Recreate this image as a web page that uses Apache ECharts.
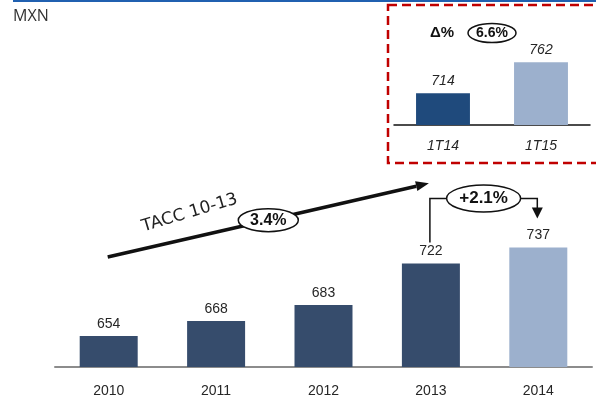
<!DOCTYPE html>
<html>
<head>
<meta charset="utf-8">
<script src="https://cdn.jsdelivr.net/npm/echarts@6/dist/echarts.min.js"></script>
<style>
  html, body { margin: 0; padding: 0; background: #fff; }
  #main { width: 596px; height: 403px; }
</style>
</head>
<body>
<div id="main"></div>
<script>
  // datos
  const years = ['2010', '2011', '2012', '2013', '2014']
  const yearValues = [654, 668, 683, 722, 737]
  const quarters = ['1T14', '1T15']
  const quarterValues = [714, 762]
  const unitLabel = 'MXN'
  const taccLabel = 'TACC 10-13'
  const taccValue = '3.4%'
  const yoyValue = '+2.1%'
  const deltaLabel = 'Δ%'
  const quarterDelta = '6.6%'

  const dark = '#364c6c'
  const light = '#9cb0cd'
  const font = 'Liberation Sans'

  const chart = echarts.init(document.getElementById('main'))
  chart.setOption({
    animation: false,
    grid: [
      { left: 55, top: 100, width: 537, height: 267 },
      { left: 394, top: 28, width: 196, height: 97 }
    ],
    xAxis: [{
      type: 'category',
      data: years,
      gridIndex: 0,
      axisTick: { show: false },
      axisLine: { lineStyle: { color: '#8c8c8c', width: 2 } },
      axisLabel: { margin: 17, fontSize: 14, color: '#262626', fontFamily: font }
    }, {
      type: 'category',
      data: quarters,
      gridIndex: 1,
      axisTick: { show: false },
      axisLine: { lineStyle: { color: '#111', width: 1.5 } },
      axisLabel: { margin: 14, fontSize: 14, fontStyle: 'italic', color: '#262626', fontFamily: font }
    }],
    yAxis: [
      { type: 'value', gridIndex: 0, min: 625, max: 875, show: false },
      { type: 'value', gridIndex: 1, min: 665, max: 815, show: false }
    ],
    series: [{
      type: 'bar',
      xAxisIndex: 0,
      yAxisIndex: 0,
      barWidth: '54%',
      data: yearValues.map((v, i) => ({
        value: v,
        itemStyle: { color: i === yearValues.length - 1 ? light : dark }
      })),
      label: { show: true, position: 'top', distance: 5, fontSize: 14, color: '#262626', fontFamily: font }
    }, {
      type: 'bar',
      xAxisIndex: 1,
      yAxisIndex: 1,
      barWidth: '55%',
      data: quarterValues.map((v, i) => ({
        value: v,
        itemStyle: { color: i === 0 ? '#1f4a7c' : light }
      })),
      label: { show: true, position: 'top', distance: 5, fontSize: 14, fontStyle: 'italic', color: '#262626', fontFamily: font }
    }]
  })

  // anotaciones ancladas a los ejes
  const px = (idx, cat, v) => chart.convertToPixel({ xAxisIndex: idx, yAxisIndex: idx }, [cat, v])
  const top2013 = px(0, '2013', yearValues[3])
  const top2014 = px(0, '2014', yearValues[4])
  const start = px(0, '2010', 728)
  const end = px(0, '2013', 797)
  start[0] -= 1
  end[0] -= 2

  const ang = Math.atan2(end[1] - start[1], end[0] - start[0])
  const head = 13, half = 5
  const base = [end[0] - head * Math.cos(ang), end[1] - head * Math.sin(ang)]
  const nx = -Math.sin(ang), ny = Math.cos(ang)
  const mid = [(start[0] + end[0]) / 2, (start[1] + end[1]) / 2]

  const bx0 = top2013[0] - 1
  const bx1 = top2014[0] - 1
  const bBottom = top2013[1] - 21
  const bTop = top2014[1] - 49
  const bMid = (bx0 + bx1) / 2
  const tip = top2014[1] - 29

  const q0 = px(1, '1T14', 0)

  const ellipse = (cx, cy, rx, ry) => ({
    type: 'ellipse',
    shape: { cx: cx, cy: cy, rx: rx, ry: ry },
    style: { fill: '#fff', stroke: '#111', lineWidth: 1.5 },
    z: 10
  })
  const label = (x, y, text, size, extra) => ({
    type: 'text',
    x: x,
    y: y,
    style: Object.assign({
      text: text, fill: '#111', font: 'bold ' + size + 'px ' + font,
      align: 'center', verticalAlign: 'middle'
    }, extra || {}),
    z: 11
  })

  chart.setOption({
    graphic: [
      { type: 'rect', shape: { x: 13, y: 0, width: 583, height: 2 }, style: { fill: '#2060b0' } },
      {
        type: 'text', x: 13, y: 16,
        style: { text: unitLabel, fill: '#333', font: '16px "Open Sans"', verticalAlign: 'middle' }
      },
      // recuadro trimestral
      {
        type: 'rect', shape: { x: 388, y: 5, width: 230, height: 158 },
        style: { fill: null, stroke: '#c00000', lineWidth: 2.5, lineDash: [9, 5] }
      },
      label(q0[0] - 1, 33, deltaLabel, 15),
      ellipse(q0[0] + 49, 33, 24, 9.5),
      label(q0[0] + 49, 33, quarterDelta, 14),
      // flecha TACC
      {
        type: 'line',
        shape: { x1: start[0], y1: start[1], x2: base[0], y2: base[1] },
        style: { stroke: '#111', lineWidth: 3.5 }
      },
      {
        type: 'polygon',
        shape: { points: [end, [base[0] + nx * half, base[1] + ny * half], [base[0] - nx * half, base[1] - ny * half]] },
        style: { fill: '#111' }
      },
      ellipse(mid[0], mid[1], 30, 11.5),
      label(mid[0], mid[1], taccValue, 16),
      {
        type: 'text', x: start[0] + 82, y: start[1] - 44, rotation: 0.29,
        style: { text: taccLabel, fill: '#222', font: '17px "DejaVu Sans"', align: 'center', verticalAlign: 'middle' }
      },
      // corchete +2.1%
      {
        type: 'polyline',
        shape: { points: [[bx0, bBottom], [bx0, bTop], [bMid - 37, bTop]] },
        style: { stroke: '#111', lineWidth: 1.5, fill: null }
      },
      {
        type: 'polyline',
        shape: { points: [[bMid + 37, bTop], [bx1, bTop], [bx1, tip - 10]] },
        style: { stroke: '#111', lineWidth: 1.5, fill: null }
      },
      {
        type: 'polygon',
        shape: { points: [[bx1, tip], [bx1 - 5.5, tip - 11], [bx1 + 5.5, tip - 11]] },
        style: { fill: '#111' }
      },
      ellipse(bMid, bTop, 37, 13.5),
      label(bMid, bTop, yoyValue, 17)
    ]
  })
</script>
</body>
</html>
